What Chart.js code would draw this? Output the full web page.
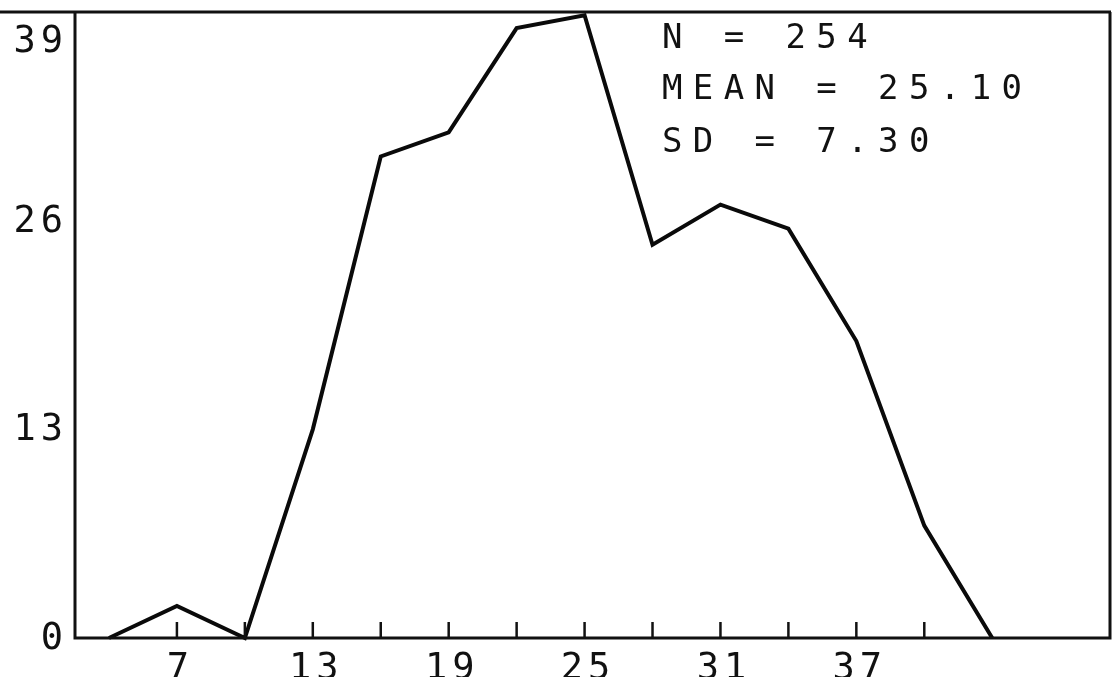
<!DOCTYPE html>
<html>
<head>
<meta charset="utf-8">
<script src="https://cdn.jsdelivr.net/npm/chart.js@4/dist/chart.umd.min.js"></script>
<style>
  html, body { margin: 0; padding: 0; background: #ffffff; }
  #c { display: block; }
</style>
</head>
<body>
<canvas id="c" width="1115" height="677"></canvas>
<script>
// ---- data ----
const classMidpoints = [4, 7, 10, 13, 16, 19, 22, 25, 28, 31, 34, 37, 40, 43];
const frequencies    = [0, 2, 0, 13, 30, 31.5, 38, 38.8, 24.5, 27, 25.5, 18.5, 7, 0];
const xTickMarks     = [7, 10, 13, 16, 19, 22, 25, 28, 31, 34, 37, 40];
const xTickLabels    = [7, 13, 19, 25, 31, 37];
const yTickLabels    = [0, 13, 26, 39];
const statsLines     = ['N = 254', 'MEAN = 25.10', 'SD = 7.30'];

const points = classMidpoints.map((x, i) => ({ x: x, y: frequencies[i] }));

const MONO = '"DejaVu Sans Mono", "Liberation Mono", monospace';

function drawSpaced(ctx, text, x, y, spacing, align) {
  // draw text with extra letter spacing; align: 'left' | 'right' | 'center'
  const chars = text.split('');
  const widths = chars.map(ch => ctx.measureText(ch).width);
  const total = widths.reduce((a, b) => a + b, 0) + spacing * (chars.length - 1);
  let start = x;
  if (align === 'right') start = x - total;
  else if (align === 'center') start = x - total / 2;
  ctx.textAlign = 'left';
  let cx = start;
  chars.forEach((ch, i) => {
    ctx.fillText(ch, cx, y);
    cx += widths[i] + spacing;
  });
}

const framePlugin = {
  id: 'frame',
  afterDatasetsDraw(chart) {
    const ctx = chart.ctx;
    const a = chart.chartArea;
    const xs = chart.scales.x;
    const ys = chart.scales.y;
    ctx.save();
    ctx.strokeStyle = '#111';
    ctx.fillStyle = '#111';
    ctx.lineCap = 'butt';

    // frame: top line (runs to the page edge), left axis, bottom axis, right border
    ctx.lineWidth = 3;
    ctx.beginPath();
    ctx.moveTo(0, a.top);
    ctx.lineTo(a.right + 1, a.top);
    ctx.stroke();
    ctx.beginPath();
    ctx.moveTo(a.left, a.top);
    ctx.lineTo(a.left, a.bottom + 1.5);
    ctx.moveTo(a.left - 1.5, a.bottom);
    ctx.lineTo(a.right + 1.5, a.bottom);
    ctx.moveTo(a.right, a.top);
    ctx.lineTo(a.right, a.bottom + 1.5);
    ctx.stroke();

    // x tick marks pointing up into the plot
    ctx.lineWidth = 2.5;
    xTickMarks.forEach(v => {
      const px = xs.getPixelForValue(v);
      ctx.beginPath();
      ctx.moveTo(px, a.bottom);
      ctx.lineTo(px, a.bottom - 16);
      ctx.stroke();
    });

    // x tick labels
    ctx.font = '37px ' + MONO;
    ctx.textBaseline = 'alphabetic';
    xTickLabels.forEach(v => {
      const px = xs.getPixelForValue(v);
      drawSpaced(ctx, String(v), px + 1, 679, 5, 'center');
    });

    // y tick labels (no tick marks)
    yTickLabels.forEach(v => {
      const py = ys.getPixelForValue(v);
      const base = Math.max(py + 11, 52);
      drawSpaced(ctx, String(v), 63, base, 5, 'right');
    });

    // statistics block
    ctx.font = '34px ' + MONO;
    const bases = [48, 99, 152];
    statsLines.forEach((t, i) => {
      drawSpaced(ctx, t, 662, bases[i], 10.4, 'left');
    });
    ctx.restore();
  }
};

new Chart(document.getElementById('c'), {
  type: 'line',
  data: {
    datasets: [{
      data: points,
      borderColor: '#0a0a0a',
      borderWidth: 4,
      pointRadius: 0,
      tension: 0,
      fill: false,
      clip: false
    }]
  },
  options: {
    responsive: false,
    animation: false,
    devicePixelRatio: 1,
    layout: { padding: { left: 75, top: 12, right: 5, bottom: 39 } },
    plugins: {
      legend: { display: false },
      tooltip: { enabled: false },
      title: { display: false }
    },
    scales: {
      x: { type: 'linear', min: 2.5, max: 48.2, display: false },
      y: { type: 'linear', min: 0, max: 39, display: false }
    }
  },
  plugins: [framePlugin]
});
</script>
</body>
</html>
